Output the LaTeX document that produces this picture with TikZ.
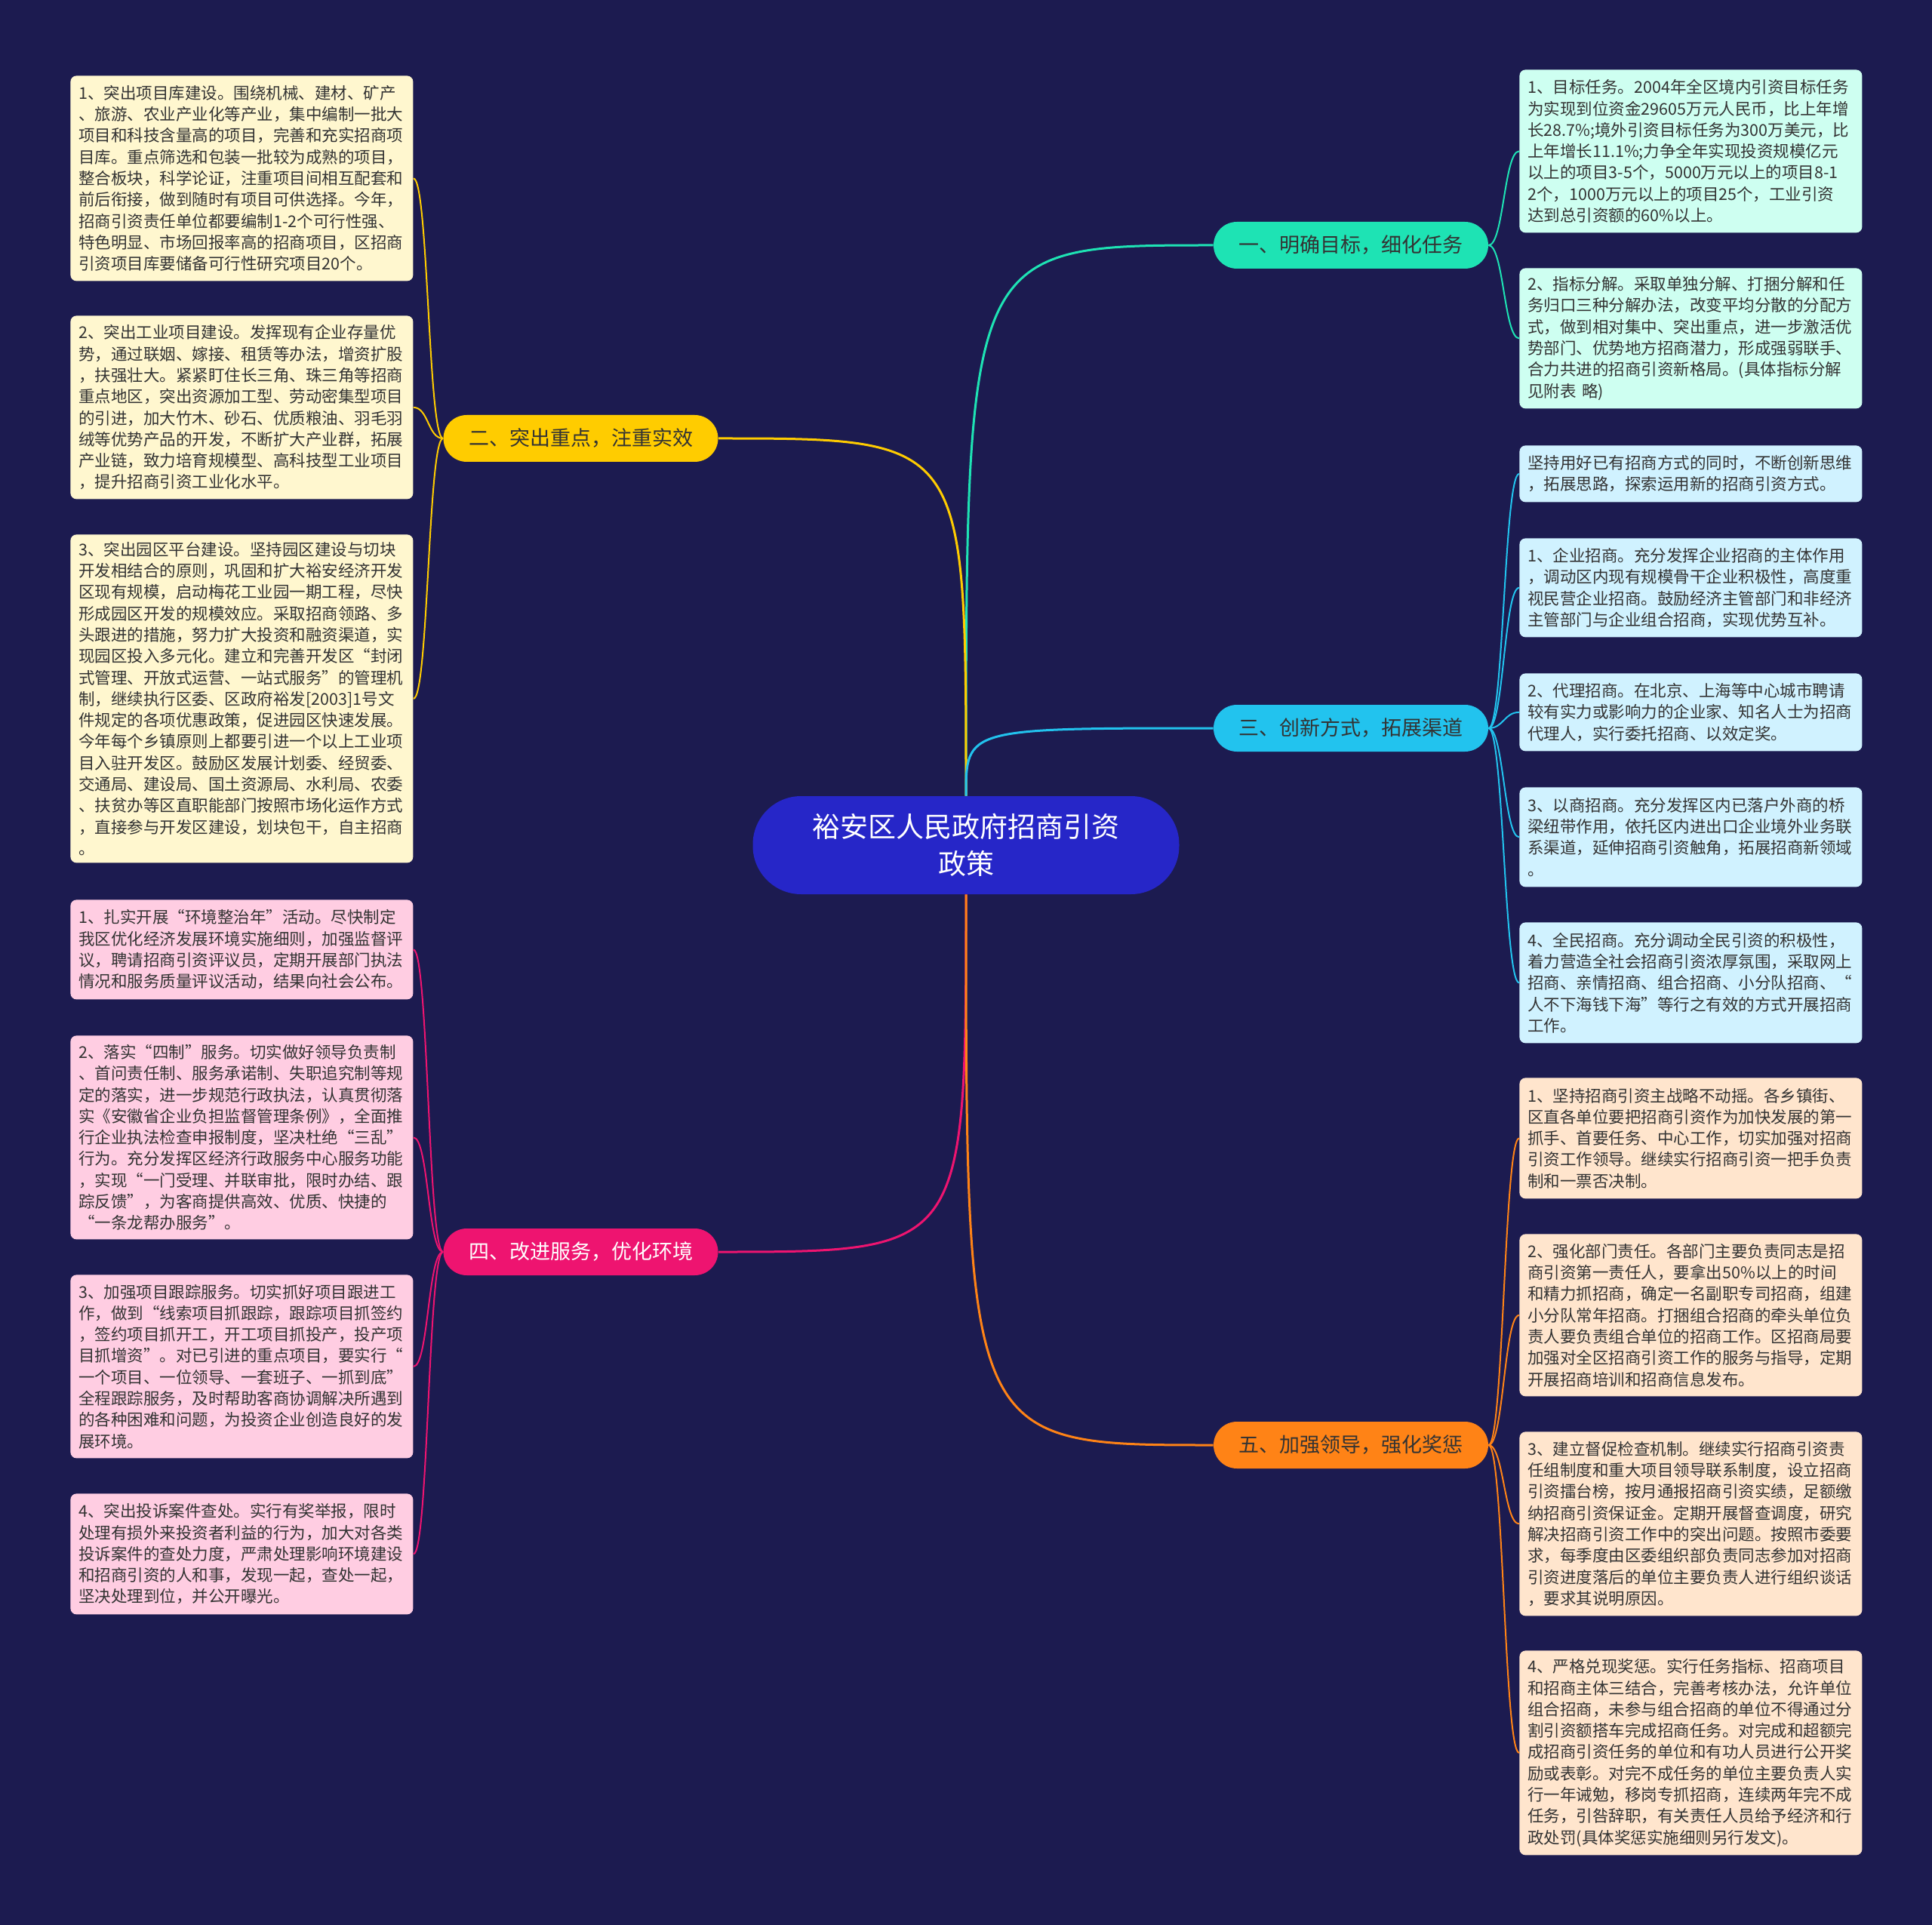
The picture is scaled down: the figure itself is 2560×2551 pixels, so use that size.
\documentclass[tikz,border=0pt]{standalone}
\usepackage{fontspec}
\setmainfont{Noto Sans CJK SC}
\usetikzlibrary{calc}
\definecolor{bg}{HTML}{1C1B50}
\definecolor{rootc}{HTML}{2626C8}
\definecolor{cteal}{HTML}{1EE3B4}
\definecolor{cyel}{HTML}{FFCC00}
\definecolor{ccyan}{HTML}{22C3EE}
\definecolor{cpink}{HTML}{EE1470}
\definecolor{corg}{HTML}{FF8316}
\definecolor{lteal}{HTML}{CEFFF1}
\definecolor{lyel}{HTML}{FFF7CF}
\definecolor{lcyan}{HTML}{D0F2FF}
\definecolor{lpink}{HTML}{FFCDE2}
\definecolor{lorg}{HTML}{FFE5CD}
\definecolor{txt}{HTML}{333333}
\tikzset{
  leaf/.style={rounded corners=4pt, anchor=north west, text width=216pt,
    inner xsep=5.5pt, inner ysep=0pt, align=left, text=txt,
    font=\fontsize{10.75pt}{14.15pt}\selectfont},
  branch/.style={rounded corners=15.5pt, minimum width=182pt, minimum height=31pt,
    inner sep=0pt, text=txt, font=\fontsize{13.5pt}{16pt}\selectfont},
  mainline/.style={line width=1.5pt},
  subline/.style={line width=1pt},
}
\begin{document}
\begin{tikzpicture}[x=0.5pt,y=-0.5pt]
\fill[bg] (0,0) rectangle (2560,2551);
\useasboundingbox (0,0) rectangle (2560,2551);

% root
\node[fill=rootc, rounded corners=32pt, minimum width=282.5pt, minimum height=65pt,
  inner sep=0pt, text=white, align=center, font=\fontsize{18.5pt}{24.5pt}\selectfont]
  (root) at (1280,1120) {裕安区人民政府招商引资\\政策};

% branches
\node[branch, fill=cteal] (b1) at (1790,325) {一、明确目标，细化任务};
\node[branch, fill=cyel] (b2) at (769.5,581) {二、突出重点，注重实效};
\node[branch, fill=ccyan] (b3) at (1790,965) {三、创新方式，拓展渠道};
\node[branch, fill=cpink, text=white] (b4) at (769.5,1659) {四、改进服务，优化环境};
\node[branch, fill=corg] (b5) at (1790,1915) {五、加强领导，强化奖惩};

% left leaves (yellow)
\node[leaf, fill=lyel, minimum height=136pt] (l1) at (93,100) {1、突出项目库建设。围绕机械、建材、矿产\\、旅游、农业产业化等产业，集中编制一批大\\项目和科技含量高的项目，完善和充实招商项\\目库。重点筛选和包装一批较为成熟的项目，\\整合板块，科学论证，注重项目间相互配套和\\前后衔接，做到随时有项目可供选择。今年，\\招商引资责任单位都要编制1-2个可行性强、\\特色明显、市场回报率高的招商项目，区招商\\引资项目库要储备可行性研究项目20个。};
\node[leaf, fill=lyel, minimum height=121.5pt] (l2) at (93,418) {2、突出工业项目建设。发挥现有企业存量优\\势，通过联姻、嫁接、租赁等办法，增资扩股\\，扶强壮大。紧紧盯住长三角、珠三角等招商\\重点地区，突出资源加工型、劳动密集型项目\\的引进，加大竹木、砂石、优质粮油、羽毛羽\\绒等优势产品的开发，不断扩大产业群，拓展\\产业链，致力培育规模型、高科技型工业项目\\，提升招商引资工业化水平。};
\node[leaf, fill=lyel, minimum height=217.5pt] (l3) at (93,708) {3、突出园区平台建设。坚持园区建设与切块\\开发相结合的原则，巩固和扩大裕安经济开发\\区现有规模，启动梅花工业园一期工程，尽快\\形成园区开发的规模效应。采取招商领路、多\\头跟进的措施，努力扩大投资和融资渠道，实\\现园区投入多元化。建立和完善开发区“封闭\\式管理、开放式运营、一站式服务”的管理机\\制，继续执行区委、区政府裕发{[2003]}1号文\\件规定的各项优惠政策，促进园区快速发展。\\今年每个乡镇原则上都要引进一个以上工业项\\目入驻开发区。鼓励区发展计划委、经贸委、\\交通局、建设局、国土资源局、水利局、农委\\、扶贫办等区直职能部门按照市场化运作方式\\，直接参与开发区建设，划块包干，自主招商\\。};

% left leaves (pink)
\node[leaf, fill=lpink, minimum height=66pt] (p1) at (93,1192) {1、扎实开展“环境整治年”活动。尽快制定\\我区优化经济发展环境实施细则，加强监督评\\议，聘请招商引资评议员，定期开展部门执法\\情况和服务质量评议活动，结果向社会公布。};
\node[leaf, fill=lpink, minimum height=135pt] (p2) at (93,1372) {2、落实“四制”服务。切实做好领导负责制\\、首问责任制、服务承诺制、失职追究制等规\\定的落实，进一步规范行政执法，认真贯彻落\\实《安徽省企业负担监督管理条例》，全面推\\行企业执法检查申报制度，坚决杜绝“三乱”\\行为。充分发挥区经济行政服务中心服务功能\\，实现“一门受理、并联审批，限时办结、跟\\踪反馈”，为客商提供高效、优质、快捷的\\“一条龙帮办服务”。};
\node[leaf, fill=lpink, minimum height=121.5pt] (p3) at (93,1689) {3、加强项目跟踪服务。切实抓好项目跟进工\\作，做到“线索项目抓跟踪，跟踪项目抓签约\\，签约项目抓开工，开工项目抓投产，投产项\\目抓增资”。对已引进的重点项目，要实行“\\一个项目、一位领导、一套班子、一抓到底”\\全程跟踪服务，及时帮助客商协调解决所遇到\\的各种困难和问题，为投资企业创造良好的发\\展环境。};
\node[leaf, fill=lpink, minimum height=80pt] (p4) at (93,1979) {4、突出投诉案件查处。实行有奖举报，限时\\处理有损外来投资者利益的行为，加大对各类\\投诉案件的查处力度，严肃处理影响环境建设\\和招商引资的人和事，发现一起，查处一起，\\坚决处理到位，并公开曝光。};

% right leaves (teal)
\node[leaf, fill=lteal, minimum height=108pt] (r1) at (2013,92) {1、目标任务。2004年全区境内引资目标任务\\为实现到位资金29605万元人民币，比上年增\\长28.7\%;境外引资目标任务为300万美元，比\\上年增长11.1\%;力争全年实现投资规模亿元\\以上的项目3-5个，5000万元以上的项目8-1\\2个，1000万元以上的项目25个，工业引资\\达到总引资额的60\%以上。};
\node[leaf, fill=lteal, minimum height=93pt] (r2) at (2013,355) {2、指标分解。采取单独分解、打捆分解和任\\务归口三种分解办法，改变平均分散的分配方\\式，做到相对集中、突出重点，进一步激活优\\势部门、优势地方招商潜力，形成强弱联手、\\合力共进的招商引资新格局。(具体指标分解\\见附表 略)};

% right leaves (cyan)
\node[leaf, fill=lcyan, minimum height=37.5pt] (c0) at (2013,590) {坚持用好已有招商方式的同时，不断创新思维\\，拓展思路，探索运用新的招商引资方式。};
\node[leaf, fill=lcyan, minimum height=65.5pt] (c1) at (2013,713) {1、企业招商。充分发挥企业招商的主体作用\\，调动区内现有规模骨干企业积极性，高度重\\视民营企业招商。鼓励经济主管部门和非经济\\主管部门与企业组合招商，实现优势互补。};
\node[leaf, fill=lcyan, minimum height=51.5pt] (c2) at (2013,892) {2、代理招商。在北京、上海等中心城市聘请\\较有实力或影响力的企业家、知名人士为招商\\代理人，实行委托招商、以效定奖。};
\node[leaf, fill=lcyan, minimum height=66pt] (c3) at (2013,1043) {3、以商招商。充分发挥区内已落户外商的桥\\梁纽带作用，依托区内进出口企业境外业务联\\系渠道，延伸招商引资触角，拓展招商新领域\\。};
\node[leaf, fill=lcyan, minimum height=80pt] (c4) at (2013,1222) {4、全民招商。充分调动全民引资的积极性，\\着力营造全社会招商引资浓厚氛围，采取网上\\招商、亲情招商、组合招商、小分队招商、“\\人不下海钱下海”等行之有效的方式开展招商\\工作。};

% right leaves (orange)
\node[leaf, fill=lorg, minimum height=80pt] (o1) at (2013,1428) {1、坚持招商引资主战略不动摇。各乡镇街、\\区直各单位要把招商引资作为加快发展的第一\\抓手、首要任务、中心工作，切实加强对招商\\引资工作领导。继续实行招商引资一把手负责\\制和一票否决制。};
\node[leaf, fill=lorg, minimum height=107.5pt] (o2) at (2013,1635) {2、强化部门责任。各部门主要负责同志是招\\商引资第一责任人，要拿出50\%以上的时间\\和精力抓招商，确定一名副职专司招商，组建\\小分队常年招商。打捆组合招商的牵头单位负\\责人要负责组合单位的招商工作。区招商局要\\加强对全区招商引资工作的服务与指导，定期\\开展招商培训和招商信息发布。};
\node[leaf, fill=lorg, minimum height=122pt] (o3) at (2013,1897) {3、建立督促检查机制。继续实行招商引资责\\任组制度和重大项目领导联系制度，设立招商\\引资擂台榜，按月通报招商引资实绩，足额缴\\纳招商引资保证金。定期开展督查调度，研究\\解决招商引资工作中的突出问题。按照市委要\\求，每季度由区委组织部负责同志参加对招商\\引资进度落后的单位主要负责人进行组织谈话\\，要求其说明原因。};
\node[leaf, fill=lorg, minimum height=135.5pt] (o4) at (2013,2187) {4、严格兑现奖惩。实行任务指标、招商项目\\和招商主体三结合，完善考核办法，允许单位\\组合招商，未参与组合招商的单位不得通过分\\割引资额搭车完成招商任务。对完成和超额完\\成招商引资任务的单位和有功人员进行公开奖\\励或表彰。对完不成任务的单位主要负责人实\\行一年诫勉，移岗专抓招商，连续两年完不成\\任务，引咎辞职，有关责任人员给予经济和行\\政处罚(具体奖惩实施细则另行发文)。};

% main connectors
\draw[mainline, cteal] (root.north) .. controls (root.north |- b1.west) .. (b1.west);
\draw[mainline, cyel] (root.north) .. controls (root.north |- b2.east) .. (b2.east);
\draw[mainline, ccyan] (root.north) .. controls (root.north |- b3.west) .. (b3.west);
\draw[mainline, cpink] (root.south) .. controls (root.south |- b4.east) .. (b4.east);
\draw[mainline, corg] (root.south) .. controls (root.south |- b5.west) .. (b5.west);

% sub connectors right
\foreach \b/\l/\c in {b1/r1/cteal, b1/r2/cteal, b3/c0/ccyan, b3/c1/ccyan, b3/c2/ccyan, b3/c3/ccyan, b3/c4/ccyan, b5/o1/corg, b5/o2/corg, b5/o3/corg, b5/o4/corg}
  \draw[subline, \c] (\b.east) .. controls ($(\b.east)+(20,0)$) and ($(\l.west)+(-20,0)$) .. (\l.west);
% sub connectors left
\foreach \b/\l/\c in {b2/l1/cyel, b2/l2/cyel, b2/l3/cyel, b4/p1/cpink, b4/p2/cpink, b4/p3/cpink, b4/p4/cpink}
  \draw[subline, \c] (\b.west) .. controls ($(\b.west)+(-20,0)$) and ($(\l.east)+(20,0)$) .. (\l.east);
\end{tikzpicture}
\end{document}
